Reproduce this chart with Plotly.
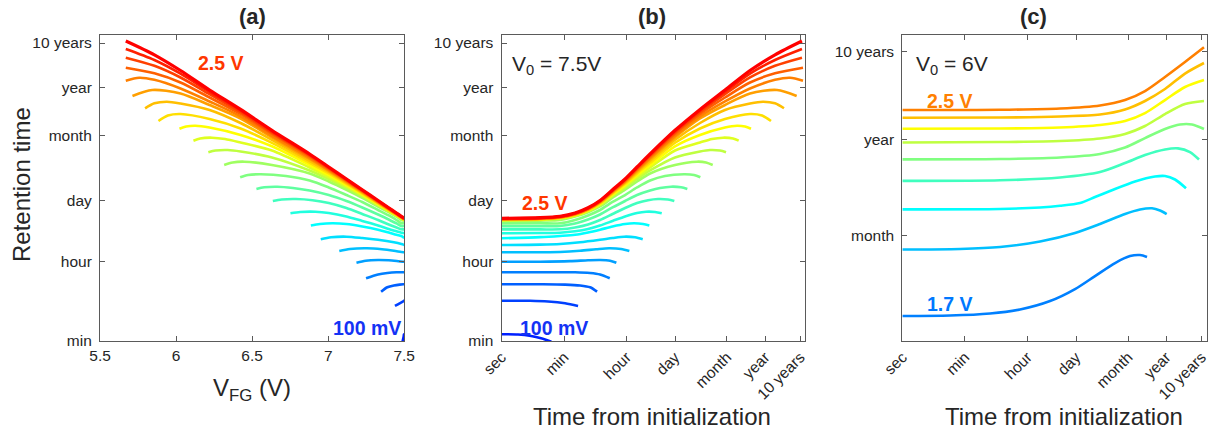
import math
import plotly.graph_objects as go

# ---------------- tick definitions ----------------
time_tick_labels = ["sec", "min", "hour", "day", "month", "year", "10 years"]
time_tick_seconds = [1, 60, 3600, 86400, 2592000, 31536000, 315360000]
ret_tick_labels = ["min", "hour", "day", "month", "year", "10 years"]
ret_tick_seconds = [60, 3600, 86400, 2592000, 31536000, 315360000]
ret_c_tick_labels = ["month", "year", "10 years"]
ret_c_tick_seconds = [2592000, 31536000, 315360000]
vfg_ticks = [5.5, 6, 6.5, 7, 7.5]
vfg_tick_labels = ["5.5", "6", "6.5", "7", "7.5"]

# ---------------- panels (a)/(b): V0 = 7.5 V, 24 curves (100 mV ... 2.5 V) ----------------
# per curve: log10(time from initialization / s), V_FG (V), log10(retention time / s)
t_ab = [
    [0, 0.469, 0.839, 1.124, 1.417],
    [0, 0.811, 1.323, 1.807, 2.176],
    [0, 1.095, 1.807, 2.233, 2.518, 2.717],
    [0, 1.095, 2.091, 2.518, 2.802, 3.078],
    [0, 1.095, 1.949, 2.461, 2.802, 3.087, 3.266],
    [0, 1.095, 1.664, 2.233, 2.688, 3.058, 3.400, 3.636],
    [0, 1.095, 1.664, 2.233, 2.802, 3.158, 3.485, 3.798, 4.017],
    [0, 1.095, 1.664, 2.091, 2.461, 2.802, 3.158, 3.514, 3.770, 4.026, 4.205],
    [0, 1.095, 1.664, 2.091, 2.461, 2.802, 3.158, 3.514, 3.855, 4.111, 4.367, 4.558],
    [0, 1.095, 1.664, 2.091, 2.461, 2.802, 3.158, 3.514, 3.855, 4.168, 4.452, 4.737, 4.916],
    [0, 1.095, 1.664, 2.091, 2.461, 2.802, 3.158, 3.514, 3.855, 4.225, 4.509, 4.822, 5.107, 5.286],
    [0, 1.095, 1.664, 2.091, 2.461, 2.802, 3.158, 3.514, 3.855, 4.225, 4.651, 5.192, 5.477, 5.656],
    [0, 1.095, 1.664, 2.091, 2.461, 2.802, 3.158, 3.514, 3.855, 4.225, 4.936, 5.562, 5.818, 6.009],
    [0, 1.095, 1.664, 2.091, 2.461, 2.802, 3.158, 3.514, 3.855, 4.225, 4.936, 5.647, 5.932, 6.216, 6.387],
    [0, 1.095, 1.664, 2.091, 2.461, 2.802, 3.158, 3.514, 3.855, 4.225, 4.936, 5.647, 5.989, 6.302, 6.586, 6.748],
    [0, 1.095, 1.664, 2.091, 2.461, 2.802, 3.158, 3.514, 3.855, 4.225, 4.936, 5.647, 6.358, 6.700, 6.927, 7.098],
    [0, 1.095, 1.664, 2.091, 2.461, 2.802, 3.158, 3.514, 3.855, 4.225, 4.936, 5.647, 6.358, 7.070, 7.411, 7.667],
    [0, 1.095, 1.664, 2.091, 2.461, 2.802, 3.158, 3.514, 3.855, 4.225, 4.936, 5.647, 6.358, 7.070, 7.440, 7.781, 8.037],
    [0, 1.095, 1.664, 2.091, 2.461, 2.802, 3.158, 3.514, 3.855, 4.225, 4.936, 5.647, 6.358, 7.070, 7.838, 8.398],
    [0, 1.095, 1.664, 2.091, 2.461, 2.802, 3.158, 3.514, 3.855, 4.225, 4.936, 5.647, 6.358, 7.070, 7.781, 8.208, 8.578],
    [0, 1.095, 1.664, 2.091, 2.461, 2.802, 3.158, 3.514, 3.855, 4.225, 4.936, 5.647, 6.358, 7.070, 7.781, 8.578],
    [0, 1.095, 1.664, 2.091, 2.461, 2.802, 3.158, 3.514, 3.855, 4.225, 4.936, 5.647, 6.358, 7.070, 7.781, 8.549],
    [0, 1.095, 1.664, 2.091, 2.461, 2.802, 3.158, 3.514, 3.855, 4.225, 4.936, 5.647, 6.358, 7.070, 7.781, 8.549],
    [0, 1.095, 1.664, 2.091, 2.461, 2.802, 3.158, 3.514, 3.855, 4.225, 4.936, 5.647, 6.358, 7.070, 7.781, 8.549],
]
vfg_ab = [
    [7.5, 7.498, 7.497, 7.494, 7.489],
    [7.5, 7.497, 7.492, 7.470, 7.439],
    [7.5, 7.494, 7.470, 7.432, 7.389, 7.348],
    [7.5, 7.494, 7.449, 7.389, 7.328, 7.249],
    [7.5, 7.494, 7.461, 7.398, 7.328, 7.247, 7.186],
    [7.5, 7.494, 7.481, 7.432, 7.354, 7.255, 7.143, 7.073],
    [7.5, 7.494, 7.481, 7.432, 7.328, 7.224, 7.120, 7.019, 6.951],
    [7.5, 7.494, 7.481, 7.449, 7.398, 7.328, 7.224, 7.120, 7.028, 6.946, 6.886],
    [7.5, 7.494, 7.481, 7.449, 7.398, 7.328, 7.224, 7.120, 7.004, 6.916, 6.816, 6.752],
    [7.5, 7.494, 7.481, 7.449, 7.398, 7.328, 7.224, 7.120, 7.004, 6.897, 6.788, 6.694, 6.636],
    [7.5, 7.494, 7.481, 7.449, 7.398, 7.328, 7.224, 7.120, 7.004, 6.878, 6.768, 6.666, 6.580, 6.528],
    [7.5, 7.494, 7.481, 7.449, 7.398, 7.328, 7.224, 7.120, 7.004, 6.878, 6.722, 6.556, 6.473, 6.421],
    [7.5, 7.494, 7.481, 7.449, 7.398, 7.328, 7.224, 7.120, 7.004, 6.878, 6.630, 6.448, 6.372, 6.316],
    [7.5, 7.494, 7.481, 7.449, 7.398, 7.328, 7.224, 7.120, 7.004, 6.878, 6.630, 6.424, 6.339, 6.259, 6.212],
    [7.5, 7.494, 7.481, 7.449, 7.398, 7.328, 7.224, 7.120, 7.004, 6.878, 6.630, 6.424, 6.322, 6.236, 6.158, 6.114],
    [7.5, 7.494, 7.481, 7.449, 7.398, 7.328, 7.224, 7.120, 7.004, 6.878, 6.630, 6.424, 6.220, 6.127, 6.066, 6.022],
    [7.5, 7.494, 7.481, 7.449, 7.398, 7.328, 7.224, 7.120, 7.004, 6.878, 6.630, 6.424, 6.220, 6.029, 5.946, 5.884],
    [7.5, 7.494, 7.481, 7.449, 7.398, 7.328, 7.224, 7.120, 7.004, 6.878, 6.630, 6.424, 6.220, 6.029, 5.939, 5.857, 5.796],
    [7.5, 7.494, 7.481, 7.449, 7.398, 7.328, 7.224, 7.120, 7.004, 6.878, 6.630, 6.424, 6.220, 6.029, 5.843, 5.713],
    [7.5, 7.494, 7.481, 7.449, 7.398, 7.328, 7.224, 7.120, 7.004, 6.878, 6.630, 6.424, 6.220, 6.029, 5.857, 5.757, 5.669],
    [7.5, 7.494, 7.481, 7.449, 7.398, 7.328, 7.224, 7.120, 7.004, 6.878, 6.630, 6.424, 6.220, 6.029, 5.857, 5.669],
    [7.5, 7.494, 7.481, 7.449, 7.398, 7.328, 7.224, 7.120, 7.004, 6.878, 6.630, 6.424, 6.220, 6.029, 5.857, 5.669],
    [7.5, 7.494, 7.481, 7.449, 7.398, 7.328, 7.224, 7.120, 7.004, 6.878, 6.630, 6.424, 6.220, 6.029, 5.857, 5.669],
    [7.5, 7.494, 7.481, 7.449, 7.398, 7.328, 7.224, 7.120, 7.004, 6.878, 6.630, 6.424, 6.220, 6.029, 5.857, 5.669],
]
ret_ab = [
    [1.910, 1.905, 1.871, 1.819, 1.742],
    [2.670, 2.668, 2.652, 2.611, 2.550],
    [3.041, 3.041, 3.034, 3.014, 2.973, 2.874],
    [3.313, 3.313, 3.313, 3.297, 3.263, 3.177],
    [3.552, 3.552, 3.564, 3.584, 3.591, 3.575, 3.530],
    [3.765, 3.767, 3.772, 3.799, 3.833, 3.856, 3.840, 3.794],
    [3.930, 3.939, 3.953, 3.991, 4.048, 4.088, 4.118, 4.104, 4.059],
    [4.082, 4.107, 4.134, 4.161, 4.213, 4.276, 4.349, 4.405, 4.421, 4.405, 4.371],
    [4.195, 4.202, 4.208, 4.240, 4.292, 4.371, 4.473, 4.575, 4.654, 4.683, 4.677, 4.647],
    [4.283, 4.283, 4.285, 4.326, 4.394, 4.496, 4.632, 4.767, 4.880, 4.944, 4.971, 4.960, 4.926],
    [4.355, 4.358, 4.360, 4.417, 4.507, 4.620, 4.779, 4.926, 5.061, 5.163, 5.220, 5.249, 5.236, 5.197],
    [4.419, 4.421, 4.421, 4.496, 4.598, 4.722, 4.903, 5.061, 5.231, 5.389, 5.491, 5.530, 5.514, 5.462],
    [4.473, 4.482, 4.496, 4.573, 4.672, 4.801, 4.998, 5.179, 5.367, 5.548, 5.740, 5.815, 5.797, 5.740],
    [4.489, 4.503, 4.529, 4.588, 4.691, 4.828, 5.034, 5.226, 5.424, 5.616, 5.910, 6.046, 6.079, 6.066, 6.027],
    [4.493, 4.507, 4.536, 4.597, 4.702, 4.847, 5.059, 5.262, 5.473, 5.684, 6.068, 6.249, 6.328, 6.358, 6.340, 6.290],
    [4.498, 4.512, 4.541, 4.604, 4.711, 4.860, 5.079, 5.290, 5.514, 5.740, 6.163, 6.419, 6.588, 6.629, 6.611, 6.561],
    [4.502, 4.516, 4.545, 4.611, 4.720, 4.874, 5.098, 5.314, 5.550, 5.790, 6.242, 6.566, 6.781, 6.894, 6.860, 6.736],
    [4.507, 4.521, 4.550, 4.618, 4.729, 4.885, 5.113, 5.337, 5.582, 5.835, 6.310, 6.690, 6.985, 7.131, 7.172, 7.136, 7.023],
    [4.511, 4.525, 4.554, 4.625, 4.738, 4.896, 5.129, 5.357, 5.609, 5.876, 6.367, 6.792, 7.098, 7.358, 7.437, 7.301],
    [4.516, 4.530, 4.559, 4.631, 4.745, 4.905, 5.141, 5.373, 5.629, 5.903, 6.401, 6.840, 7.177, 7.471, 7.667, 7.715, 7.647],
    [4.520, 4.534, 4.565, 4.638, 4.754, 4.917, 5.154, 5.391, 5.654, 5.935, 6.448, 6.894, 7.267, 7.607, 7.814, 7.941],
    [4.525, 4.539, 4.570, 4.643, 4.761, 4.923, 5.163, 5.403, 5.670, 5.957, 6.480, 6.939, 7.342, 7.720, 7.984, 8.168],
    [4.530, 4.544, 4.575, 4.650, 4.765, 4.930, 5.170, 5.414, 5.684, 5.975, 6.507, 6.975, 7.396, 7.806, 8.115, 8.364],
    [4.534, 4.548, 4.579, 4.654, 4.772, 4.937, 5.179, 5.423, 5.695, 5.989, 6.525, 6.998, 7.437, 7.878, 8.233, 8.545],
]

# ---------------- panel (c): V0 = 6 V, 1.7 V ... 2.5 V ----------------
dv_c = ["1.7 V", "1.8 V", "1.9 V", "2.0 V", "2.1 V", "2.2 V", "2.3 V", "2.4 V", "2.5 V"]
t_c = [
    [0, 1.355, 2.491, 3.344, 4.196, 4.906, 5.474, 6.043, 6.469, 6.753, 6.952],
    [0, 1.639, 2.776, 3.912, 4.906, 5.616, 6.327, 6.753, 7.094, 7.321, 7.511],
    [0, 2.776, 3.912, 4.480, 5.048, 5.474, 5.901, 6.611, 7.179, 7.463, 7.747, 8.060],
    [0, 2.776, 4.480, 5.616, 6.327, 6.895, 7.463, 7.832, 8.173, 8.429],
    [0, 2.776, 4.480, 5.616, 6.327, 6.895, 7.463, 7.889, 8.230, 8.571],
    [0, 2.776, 4.480, 5.616, 6.327, 6.895, 7.463, 8.031, 8.571],
    [0, 2.776, 4.480, 5.616, 6.327, 6.895, 7.463, 8.031, 8.571],
    [0, 2.776, 4.480, 5.616, 6.327, 6.895, 7.463, 8.031, 8.571],
    [0, 2.776, 4.480, 5.616, 6.327, 6.895, 7.463, 8.031, 8.571],
]
ret_c = [
    [5.497, 5.502, 5.525, 5.571, 5.667, 5.803, 5.951, 6.099, 6.178, 6.190, 6.167],
    [6.252, 6.258, 6.281, 6.343, 6.440, 6.542, 6.656, 6.707, 6.721, 6.696, 6.656],
    [6.709, 6.713, 6.730, 6.749, 6.781, 6.849, 6.917, 7.025, 7.082, 7.088, 7.048, 6.948],
    [7.033, 7.039, 7.071, 7.133, 7.235, 7.326, 7.389, 7.402, 7.360, 7.275],
    [7.277, 7.281, 7.298, 7.338, 7.411, 7.519, 7.622, 7.673, 7.673, 7.622],
    [7.468, 7.474, 7.485, 7.514, 7.565, 7.656, 7.792, 7.906, 7.940],
    [7.624, 7.627, 7.639, 7.667, 7.713, 7.803, 7.951, 8.099, 8.178],
    [7.750, 7.752, 7.764, 7.786, 7.843, 7.940, 8.076, 8.252, 8.372],
    [7.838, 7.840, 7.855, 7.889, 7.951, 8.053, 8.213, 8.383, 8.550],
]


def jet(t):
    r = min(1.0, max(0.0, 1.5 - abs(4 * t - 3)))
    g = min(1.0, max(0.0, 1.5 - abs(4 * t - 2)))
    b = min(1.0, max(0.0, 1.5 - abs(4 * t - 1)))
    return "rgb(%d,%d,%d)" % (round(255 * r), round(255 * g), round(255 * b))


n_ab = len(ret_ab)
colors_ab = [jet(0.156 + i * (0.875 - 0.156) / (n_ab - 1)) for i in range(n_ab)]
colors_c = [jet(0.25 + i * 0.0625) for i in range(len(ret_c))]

fig = go.Figure()
for i in range(n_ab):
    w = 3.2 if i == n_ab - 1 else 2.6
    fig.add_trace(go.Scatter(x=vfg_ab[i], y=ret_ab[i], mode="lines",
                             line=dict(color=colors_ab[i], width=w, shape="spline", smoothing=0.8),
                             xaxis="x", yaxis="y", hoverinfo="skip"))
for i in range(n_ab):
    w = 3.2 if i == n_ab - 1 else 2.6
    fig.add_trace(go.Scatter(x=t_ab[i], y=ret_ab[i], mode="lines",
                             line=dict(color=colors_ab[i], width=w, shape="spline", smoothing=0.8),
                             xaxis="x2", yaxis="y2", hoverinfo="skip"))
for i in range(len(ret_c)):
    fig.add_trace(go.Scatter(x=t_c[i], y=ret_c[i], mode="lines", name=dv_c[i],
                             line=dict(color=colors_c[i], width=2.6, shape="spline", smoothing=0.8),
                             xaxis="x3", yaxis="y3", hoverinfo="skip"))

W, H = 1221, 431
def px(x):
    return x / W
def py(y):
    return 1 - y / H

FONT = "Liberation Sans, Arial, Helvetica, sans-serif"
TXT = "#262626"
LINE = "#5a5a5a"
ydom = [py(341), py(35)]
common = dict(showline=True, linecolor=LINE, linewidth=1.2, mirror="ticks", ticks="inside",
              ticklen=5, tickwidth=1.1, tickcolor=LINE, showgrid=False, zeroline=False,
              automargin=False,
              tickfont=dict(size=15.5, color=TXT, family=FONT))

lt = [math.log10(s) for s in time_tick_seconds]
lr = [math.log10(s) for s in ret_tick_seconds]
lrc = [math.log10(s) for s in ret_c_tick_seconds]

fig.update_layout(
    width=W, height=H, margin=dict(l=0, r=0, t=0, b=0, pad=0), autosize=False,
    paper_bgcolor="white", plot_bgcolor="white", showlegend=False,
    font=dict(family=FONT, color=TXT),
    xaxis=dict(domain=[px(100), px(404.3)], range=[5.4995, 7.5005], anchor="y",
               tickvals=vfg_ticks, ticktext=vfg_tick_labels, **common),
    yaxis=dict(domain=ydom, range=[1.758, 8.681], anchor="x", ticklabelstandoff=4,
               tickvals=lr, ticktext=ret_tick_labels, **common),
    xaxis2=dict(domain=[px(501.5), px(805)], range=[-0.003, 8.635], anchor="y2",
                tickvals=lt, ticktext=time_tick_labels, tickangle=-45, **common),
    yaxis2=dict(domain=ydom, range=[1.758, 8.681], anchor="x2", ticklabelstandoff=4,
                tickvals=lr, ticktext=ret_tick_labels, **common),
    xaxis3=dict(domain=[px(902.3), px(1207.3)], range=[-0.003, 8.665], anchor="y3",
                tickvals=lt, ticktext=time_tick_labels, tickangle=-45, **common),
    yaxis3=dict(domain=ydom, range=[5.213, 8.69], anchor="x3", ticklabelstandoff=4,
                tickvals=lrc, ticktext=ret_c_tick_labels, **common),
)

ann = []
def add(text, x, y, size, color=TXT, bold=False, xanchor="center", angle=0):
    t = "<b>%s</b>" % text if bold else text
    ann.append(dict(text=t, x=px(x), y=py(y), xref="paper", yref="paper", showarrow=False,
                    xanchor=xanchor, yanchor="middle", textangle=angle,
                    font=dict(size=size, color=color, family=FONT)))

add("(a)", 252.2, 16, 22, bold=True)
add("(b)", 651.7, 16, 22, bold=True)
add("(c)", 1033, 16, 22, bold=True)
add("Retention time", 21, 185, 24, angle=-90)
add("V<sub>FG</sub> (V)", 251.7, 389, 24)
add("Time from initialization", 652.2, 416, 24)
add("Time from initialization", 1063.8, 416, 24)
add("V<sub>0</sub> = 7.5V", 510, 65, 21, xanchor="left")
add("V<sub>0</sub> = 6V", 914, 65, 21, xanchor="left")
add("2.5 V", 221, 63, 19.5, color="rgb(255,55,0)", bold=True)
add("2.5 V", 545, 203, 19.5, color="rgb(255,55,0)", bold=True)
add("100 mV", 367, 327.5, 19.5, color="rgb(20,50,245)", bold=True)
add("100 mV", 554.2, 327.5, 19.5, color="rgb(20,50,245)", bold=True)
add("2.5 V", 949.5, 101, 19.5, color="rgb(255,128,0)", bold=True)
add("1.7 V", 949.5, 303.5, 19.5, color="rgb(0,120,255)", bold=True)
fig.update_layout(annotations=ann)

fig.write_html("out.html")
